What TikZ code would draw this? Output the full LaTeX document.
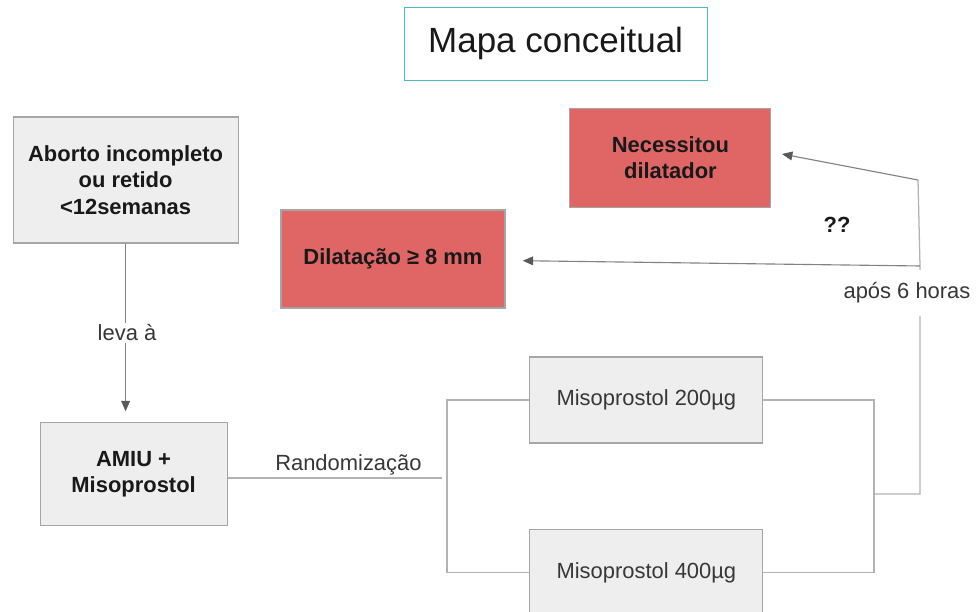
\documentclass[tikz,border=0pt]{standalone}
\usepackage{fontspec}
\setmainfont{Liberation Sans}
\usetikzlibrary{positioning,arrows.meta}
\definecolor{boxgrey}{RGB}{238,238,238}
\definecolor{edgegrey}{RGB}{165,165,165}
\definecolor{linkgrey}{RGB}{178,178,178}
\definecolor{arrowgrey}{RGB}{130,130,130}
\definecolor{tipgrey}{RGB}{90,90,90}
\definecolor{boxred}{RGB}{224,102,102}
\definecolor{titleteal}{RGB}{75,186,198}
\definecolor{textdark}{RGB}{25,25,25}
\definecolor{plaingrey}{RGB}{55,55,55}

\begin{document}
\begin{tikzpicture}[
  box/.style={rectangle, draw=edgegrey, line width=0.8pt, inner sep=0pt, align=center, text=textdark},
  greybox/.style={box, fill=boxgrey},
  redbox/.style={box, fill=boxred},
  titlebox/.style={rectangle, draw=titleteal, line width=0.8pt, inner sep=0pt,
    minimum width=7.575cm, minimum height=1.825cm, text=textdark, font=\fontsize{24.9}{30}\selectfont},
  boldtxt/.style={font=\fontsize{15.6}{18.9}\selectfont\bfseries},
  plaintxt/.style={font=\fontsize{15.6}{18.9}\selectfont, text=plaingrey},
  link/.style={draw=linkgrey, line width=0.9pt},
  arrowlink/.style={draw=arrowgrey, line width=0.8pt,
    -{Triangle[length=2.6mm, width=2.2mm, color=tipgrey]}},
  lbl/.style={plaintxt, fill=white, inner sep=1pt}
]
  \useasboundingbox (0,0) rectangle (24.5,15.3);

  \node[titlebox] (title) at (13.89,14.21) {Mapa conceitual};

  \node[greybox, boldtxt, minimum width=5.625cm, minimum height=3.15cm] (aborto) at (3.14,10.8)
    {Aborto incompleto\\ou retido\\<12semanas};
  \node[greybox, boldtxt, minimum width=4.675cm, minimum height=2.575cm] (amiu) at (3.34,3.44)
    {AMIU +\\Misoprostol};
  \node[redbox, boldtxt, minimum width=5.6cm, minimum height=2.45cm] (dilat) at (9.825,8.825)
    {Dilatação ≥ 8 mm};
  \node[redbox, boldtxt, minimum width=5.025cm, minimum height=2.475cm] (necess) at (16.76,11.36)
    {Necessitou\\dilatador};
  \node[greybox, plaintxt, minimum width=5.825cm, minimum height=2.15cm] (miso200) at (16.16,5.3)
    {Misoprostol 200µg};
  \node[greybox, plaintxt, minimum width=5.825cm, minimum height=2.125cm] (miso400) at (16.16,0.99)
    {Misoprostol 400µg};

  \node[boldtxt, text=textdark] (quest) at (20.925,9.675) {??};
  \node[plaintxt] (rand) at (8.71,3.69) {Randomização};

  \coordinate (rndend) at (11.05,3.35);
  \coordinate (brL) at (11.175,5.3);
  \coordinate (brR) at (21.85,5.3);
  \coordinate (jR) at (21.85,2.95);
  \coordinate (jS) at (23.0,2.95);
  \coordinate (jT) at (23.0,8.65);
  \coordinate (jU) at (22.95,10.8);
  \coordinate (tipN) at (19.55,11.45);

  \draw[arrowlink, shorten >=0.275cm] (aborto.south) -- (aborto.south |- amiu.north);
  \draw[link] (rndend -| amiu.east) -- (rndend);
  \draw[link] (miso200.west) -- (brL) |- (miso400.west);
  \draw[link] (miso200.east) -- (brR) |- (miso400.east);
  \draw[link] (jR) -- (jS) -- (jT) -- (jU);
  \draw[arrowlink] (jU) -- (tipN);
  \draw[arrowlink, shorten >=0.43cm] (jT) -- (dilat);

  \node[lbl] (leva) at (3.175,6.975) {leva à};
  \node[lbl, minimum height=1.15cm] (apos) at (22.675,7.97) {após 6 horas};

\end{tikzpicture}
\end{document}
